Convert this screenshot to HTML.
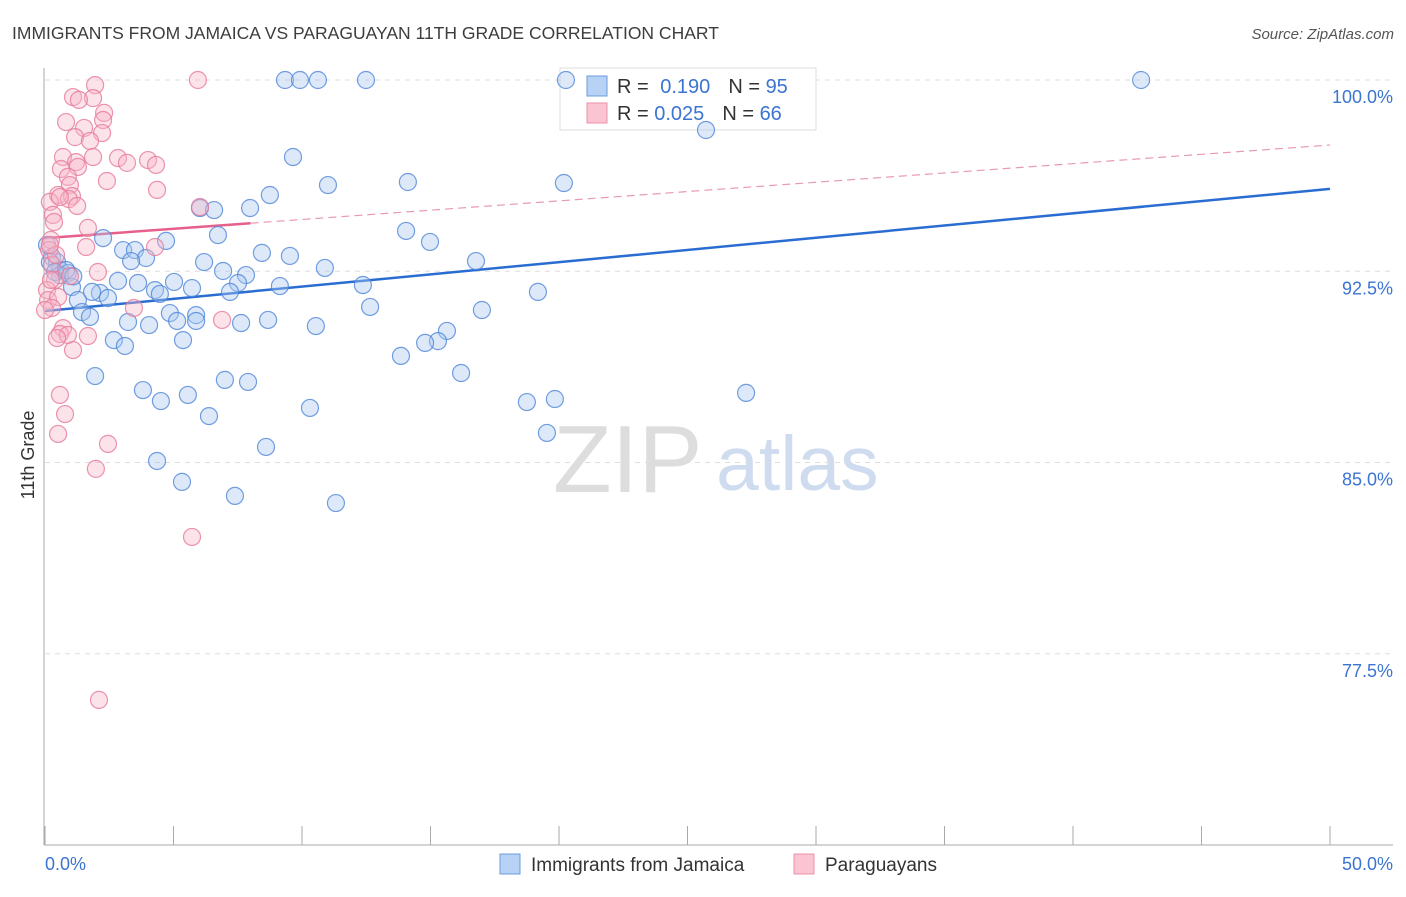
<!DOCTYPE html>
<html><head><meta charset="utf-8"><style>
body{margin:0;background:#fff;font-family:"Liberation Sans",sans-serif}
svg text{font-family:"Liberation Sans",sans-serif}
</style></head><body>
<svg id="chart" width="1406" height="892" xmlns="http://www.w3.org/2000/svg">
<text x="12" y="39" font-size="17.5" fill="#3d3d3d">IMMIGRANTS FROM JAMAICA VS PARAGUAYAN 11TH GRADE CORRELATION CHART</text>
<text x="1394" y="39" font-size="15" fill="#555" font-style="italic" text-anchor="end">Source: ZipAtlas.com</text>
<g>
<text x="553" y="492" font-size="96" fill="#ddd" font-family="Liberation Serif">ZIP</text>
<text x="716" y="490" font-size="77" fill="#cfdcf0">atlas</text>
</g>
<g id="grid"></g><g id="axes"></g>
<g>
<rect x="560" y="68" width="256" height="62" fill="#fff" stroke="#ddd"/>
<rect x="587" y="76" width="20" height="20" fill="#b7d2f5" stroke="#6b9be0"/>
<text x="617" y="93" font-size="20" fill="#333">R = <tspan fill="#3b74d1" dx="6">0.190</tspan><tspan dx="18" fill="#333">N = </tspan><tspan fill="#3b74d1">95</tspan></text>
<rect x="587" y="103" width="20" height="20" fill="#fac4d3" stroke="#ec90aa"/>
<text x="617" y="120" font-size="20" fill="#333">R = <tspan fill="#3b74d1">0.025</tspan><tspan dx="18" fill="#333">N = </tspan><tspan fill="#3b74d1">66</tspan></text>
</g>
<g id="trends"></g><g id="points"></g>
<text transform="translate(34,455) rotate(-90)" font-size="18" fill="#333" text-anchor="middle">11th Grade</text>
<g>
<rect x="500" y="854" width="20" height="20" fill="#b7d2f5" stroke="#6b9be0"/>
<text x="531" y="871" font-size="19" fill="#333">Immigrants from Jamaica</text>
<rect x="794" y="854" width="20" height="20" fill="#fac4d3" stroke="#ec90aa"/>
<text x="825" y="871" font-size="19" fill="#333">Paraguayans</text>
</g>
</svg>
<script>
const yTicks=[100,92.5,85,77.5];
const yTickLabels=["100.0%","92.5%","85.0%","77.5%"];
const xTickLabels=["0.0%","50.0%"];
const blueX=[9.34,9.92,10.62,12.49,42.65,20.27,25.72,9.65,20.19,14.12,11.01,8.75,6.03,6.58,7.98,14.05,14.98,4.71,2.26,6.73,3.04,3.5,3.93,3.35,8.44,9.53,6.19,16.77,6.93,10.89,7.82,0.27,0.47,0.58,0.89,0.58,5.02,3.62,2.84,7.51,9.14,12.37,4.28,5.72,4.47,7.2,1.05,1.28,2.14,2.45,1.83,19.18,1.44,1.75,12.65,17.0,3.23,4.05,4.86,5.14,5.88,5.88,7.63,8.68,10.54,15.64,15.29,14.79,5.37,2.68,3.11,13.85,1.95,7.0,7.9,16.19,3.81,5.56,4.51,18.75,19.84,27.28,10.31,6.38,19.53,8.6,4.36,5.33,7.39,11.32,0.08,0.19,0.39,0.82,1.1];
const blueY=[100,100,100,100,100,100,98.04,96.98,95.96,96.0,95.88,95.49,94.98,94.9,94.98,94.08,93.65,93.69,93.8,93.92,93.33,93.33,93.02,92.9,93.22,93.1,92.86,92.9,92.51,92.63,92.35,93.06,92.86,92.55,92.43,92.35,92.08,92.04,92.12,92.04,91.92,91.96,91.76,91.84,91.61,91.69,91.88,91.37,91.65,91.45,91.69,91.69,90.9,90.71,91.1,90.98,90.51,90.39,90.86,90.55,90.78,90.55,90.47,90.59,90.35,90.16,89.76,89.69,89.8,89.8,89.57,89.18,88.39,88.24,88.16,88.51,87.84,87.65,87.41,87.37,87.49,87.73,87.14,86.82,86.16,85.61,85.06,84.24,83.69,83.41,93.53,92.86,92.47,92.55,92.3];
const pinkX=[1.95,5.95,1.87,1.09,1.32,2.3,2.26,0.82,1.52,2.22,1.17,1.75,0.7,2.84,4.01,1.21,1.28,3.19,4.32,0.62,1.87,0.89,2.41,0.97,4.36,0.51,1.05,0.93,0.19,0.58,1.25,0.31,0.35,1.67,0.23,6.03,4.28,1.6,0.16,0.27,2.06,0.39,0.97,0.08,0.12,0.51,0.27,3.46,6.89,0.7,0.58,0.89,1.67,0.47,1.09,0.58,0.78,0.51,2.45,1.98,5.72,2.1,0,0.23,0.43,0.19];
const pinkY=[99.8,100,99.29,99.33,99.22,98.71,98.43,98.35,98.12,97.92,97.76,97.61,96.98,96.94,96.86,96.78,96.59,96.75,96.67,96.51,96.98,96.2,96.04,95.88,95.69,95.49,95.45,95.33,95.22,95.41,95.06,94.71,94.43,94.2,93.73,95.02,93.45,93.45,93.33,92.75,92.47,92.16,92.31,91.76,91.37,91.49,91.06,91.06,90.59,90.27,90.04,90.0,89.96,89.88,89.41,87.65,86.9,86.12,85.73,84.75,82.08,75.69,90.98,92.16,93.14,93.53];
const blueTrend=[90.94,95.73];
const pinkTrend=[93.8,97.45];
const NS="http://www.w3.org/2000/svg";
const X=v=>45+v*25.7, Y=v=>80+(100-v)*25.5;
function mk(tag,attrs,parent){const e=document.createElementNS(NS,tag);for(const k in attrs)e.setAttribute(k,attrs[k]);document.getElementById(parent).appendChild(e);return e;}
yTicks.forEach((t,i)=>{
 const g=mk('line',{x1:45,x2:1393,y1:Y(t),y2:Y(t),stroke:'#ddd','stroke-dasharray':'5,5'},'grid');
 
 
 const l=mk('text',{x:1393,y:Y(t)+23,'font-size':18,fill:'#3b74d1','text-anchor':'end'},'axes');
 l.textContent=yTickLabels[i];
 
 
});
let a=mk('line',{x1:44,x2:44,y1:68,y2:845,stroke:'#aaa'},'axes');


a=mk('line',{x1:44,x2:1393,y1:845,y2:845,stroke:'#aaa'},'axes');


for(let k=0;k<=10;k++){const t=mk('line',{x1:X(k*5),x2:X(k*5),y1:826,y2:845,stroke:'#aaa'},'axes');
 
 }
[[0,'start',45],[50,'end',1393]].forEach((d,i)=>{const t=mk('text',{x:d[2],y:870,'font-size':18,fill:'#3b74d1','text-anchor':d[1]},'axes');t.textContent=xTickLabels[i];
 
 });
function pts(xs,ys,fill,stroke,name){xs.forEach((x,i)=>{const c=mk('circle',{cx:X(x),cy:Y(ys[i]),r:8.5,fill:fill,'fill-opacity':0.4,stroke:stroke,'stroke-opacity':0.8,'stroke-width':1.2},'points');
 
 });}
pts(blueX,blueY,'#a9c7f0','#4f86d8','jamaica-point');
pts(pinkX,pinkY,'#f8b6c8','#e6799a','paraguayan-point');
const bl=mk('line',{x1:X(0),y1:Y(blueTrend[0]),x2:X(50),y2:Y(blueTrend[1]),stroke:'#2a6dd2','stroke-width':2.5},'trends');


const pAt=x=>pinkTrend[0]+(pinkTrend[1]-pinkTrend[0])*x/50;
const ps=mk('line',{x1:X(0),y1:Y(pAt(0)),x2:X(8),y2:Y(pAt(8)),stroke:'#e5608a','stroke-width':2.5},'trends');


const pd=mk('line',{x1:X(8),y1:Y(pAt(8)),x2:X(50),y2:Y(pAt(50)),stroke:'#e89ab2','stroke-width':1.2,'stroke-dasharray':'8,5'},'trends');


</script>
</body></html>
